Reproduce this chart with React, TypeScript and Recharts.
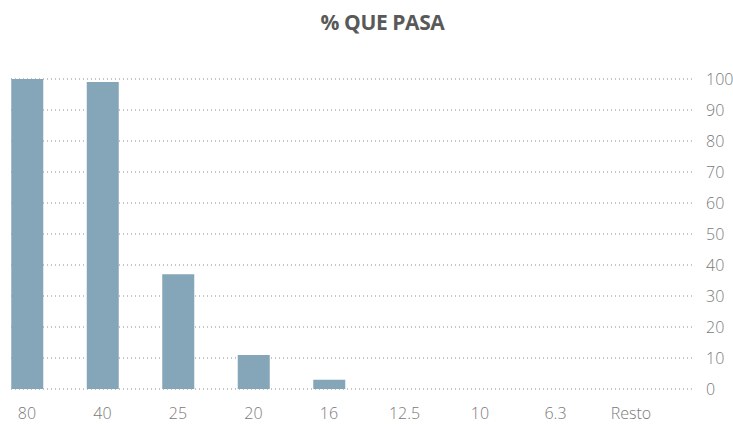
import React from "react";
import { BarChart, Bar, XAxis, YAxis, CartesianGrid } from "recharts";

const categories = ["80", "40", "25", "20", "16", "12.5", "10", "6.3", "Resto"];
const passing = [100, 99, 37, 11, 3, 0, 0, 0, 0];
const yTicks = [0, 10, 20, 30, 40, 50, 60, 70, 80, 90, 100];
const xTicks = [0, 1, 2, 3, 4, 5, 6, 7, 8];

const data = categories.map((c, i) => ({ idx: i, name: c, value: passing[i] }));

const FONT = "'Open Sans', 'Segoe UI', sans-serif";

export default function App() {
  return (
    <div style={{ position: "absolute", left: 0, top: 0, width: 733, height: 426, background: "#fff" }}>
      <div
        style={{
          position: "absolute",
          left: 0,
          top: 8,
          width: 765,
          textAlign: "center",
          fontFamily: FONT,
          fontWeight: 700,
          fontSize: 21,
          color: "#595959",
          letterSpacing: -0.4,
        }}
      >
        % QUE PASA
      </div>
      <BarChart
        width={733}
        height={426}
        data={data}
        margin={{ top: 79, right: 0, left: 11, bottom: 0 }}
        barSize={32}
      >
        <CartesianGrid
          vertical={false}
          stroke="#8a8a8a"
          strokeDasharray="1 3"
        />
        <XAxis
          dataKey="idx"
          type="number"
          domain={[-0.212, 8.808]}
          ticks={xTicks}
          tickFormatter={(v: number) => categories[v]}
          axisLine={false}
          tickLine={false}
          tickSize={0}
          tickMargin={19}
          height={37}
          interval={0}
          allowDataOverflow
          tick={{ fill: "#7a7a7a", fontSize: 16, fontFamily: FONT, fontWeight: 300 }}
        />
        <YAxis
          orientation="right"
          domain={[0, 100]}
          ticks={yTicks}
          axisLine={false}
          tickLine={false}
          tickSize={0}
          tickMargin={14}
          width={41}
          interval={0}
          tick={{ fill: "#7a7a7a", fontSize: 16, fontFamily: FONT, fontWeight: 300 }}
        />
        <Bar dataKey="value" fill="#85a5b8" isAnimationActive={false} />
      </BarChart>
    </div>
  );
}
